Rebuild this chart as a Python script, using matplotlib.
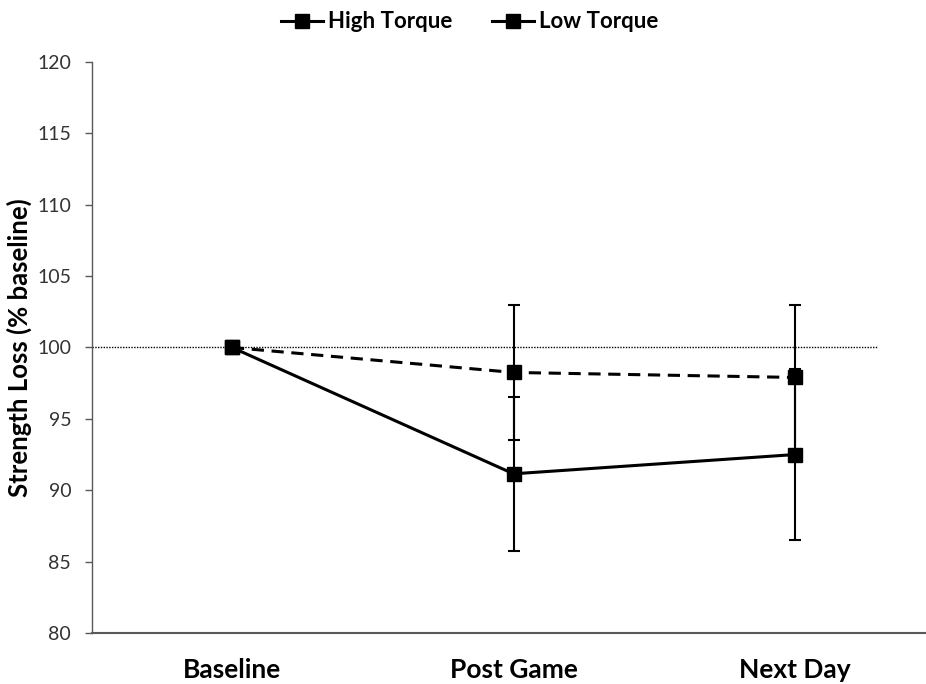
import matplotlib.pyplot as plt
from matplotlib.lines import Line2D

# data
categories = ['Baseline', 'Post Game', 'Next Day']
high_torque = [100.0, 91.15, 92.5]
high_err = [0.0, 5.4, 6.0]
low_torque = [100.0, 98.25, 97.9]
low_err = [0.0, 4.7, 5.1]
yticks = [80, 85, 90, 95, 100, 105, 110, 115, 120]

plt.rcParams['font.family'] = ['Lato', 'DejaVu Sans']

fig = plt.figure(figsize=(9.26, 6.84), dpi=100)
ax = fig.add_axes([0.0994, 0.0746, 0.9006, 0.8348])

x = list(range(len(categories)))

# reference line at 100 %
ax.plot([-0.497, 2.29], [100, 100], color='black', linestyle=(0, (1, 1)),
        linewidth=1.0, zorder=1)

ax.errorbar(x, low_torque, yerr=low_err, color='black', linestyle=(0, (4, 2.5)),
            linewidth=2.2, marker='s', markersize=10, ecolor='black',
            elinewidth=1.5, capsize=4, capthick=1.5, zorder=3)
ax.errorbar(x, high_torque, yerr=high_err, color='black', linestyle='-',
            linewidth=2.2, marker='s', markersize=10, ecolor='black',
            elinewidth=1.5, capsize=4, capthick=1.5, zorder=3)

ax.set_xlim(-0.497, 2.465)
ax.set_ylim(80, 120)
ax.set_yticks(yticks)
ax.set_yticklabels([str(t) for t in yticks], fontsize=14, color='#333333')
ax.set_xticks(x)
ax.set_xticklabels(categories, fontsize=19, fontweight='bold')
ax.tick_params(axis='x', length=0, pad=18)
ax.tick_params(axis='y', length=5, width=1, color='#595959', pad=10)

for s in ['top', 'right']:
    ax.spines[s].set_visible(False)
ax.spines['left'].set_color('#595959')
ax.spines['bottom'].set_color('#595959')
ax.spines['left'].set_linewidth(1.0)
ax.spines['bottom'].set_linewidth(1.5)

ax.set_ylabel('Strength Loss (% baseline)', fontsize=18.5, fontweight='bold')
ax.yaxis.set_label_coords(-0.072, 0.5)

handles = [Line2D([], [], color='black', linewidth=2.2, marker='s', markersize=10),
           Line2D([], [], color='black', linewidth=2.2, marker='s', markersize=10)]
fig.legend(handles, ['High Torque', 'Low Torque'], loc='center', ncol=2,
           bbox_to_anchor=(0.507, 0.968), frameon=False, handlelength=1.9,
           handletextpad=0.2, columnspacing=1.8,
           prop={'size': 16, 'weight': 'bold'})

fig.savefig('out.png', dpi=100)
